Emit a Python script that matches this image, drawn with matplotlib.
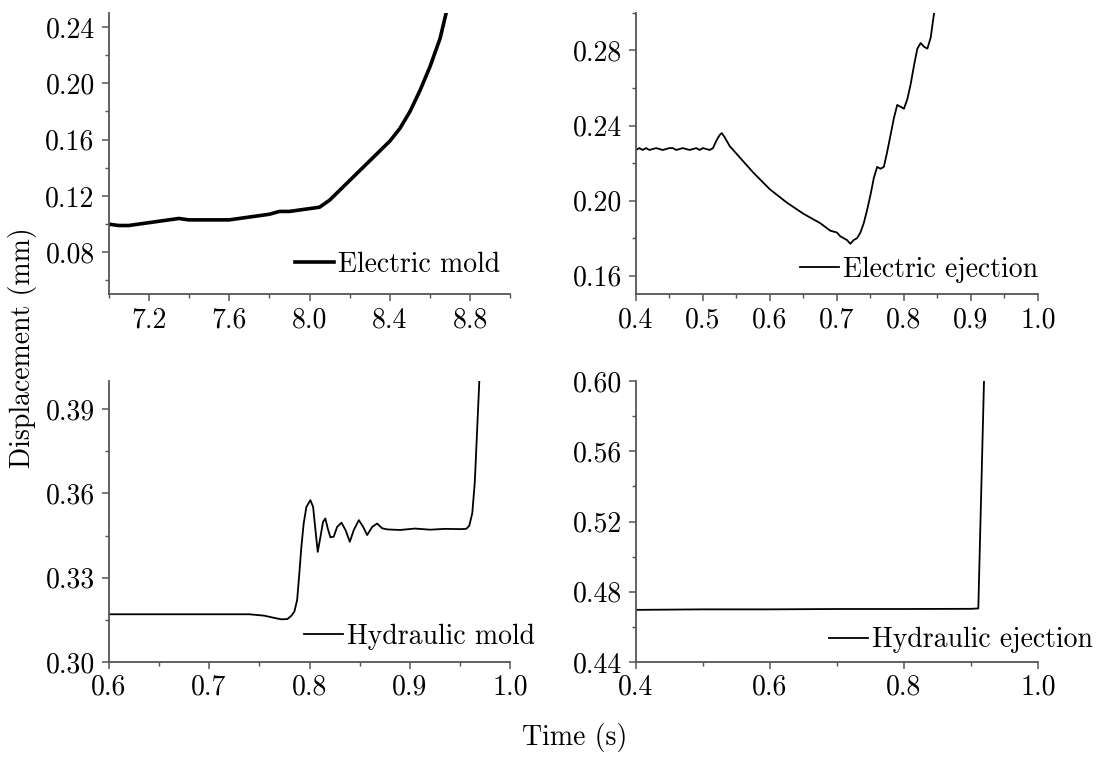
import matplotlib
matplotlib.use("Agg")
import matplotlib.pyplot as plt
from matplotlib.ticker import MultipleLocator, FormatStrFormatter

plt.rcParams['font.family'] = 'cmr10'
plt.rcParams['mathtext.fontset'] = 'cm'
plt.rcParams['axes.formatter.use_mathtext'] = True
plt.rcParams['font.size'] = 20

# Electric mold (top left)
em_t = [7.00, 7.05, 7.10, 7.15, 7.20, 7.25, 7.30, 7.35, 7.40, 7.45, 7.50, 7.55, 7.60, 7.65,
        7.70, 7.75, 7.80, 7.85, 7.90, 7.95, 8.00, 8.05, 8.10, 8.15, 8.20, 8.25, 8.30, 8.35,
        8.40, 8.45, 8.50, 8.55, 8.60, 8.65, 8.68]
em_d = [0.100, 0.099, 0.099, 0.100, 0.101, 0.102, 0.103, 0.104, 0.103, 0.103, 0.103, 0.103, 0.103, 0.104,
        0.105, 0.106, 0.107, 0.109, 0.109, 0.110, 0.111, 0.112, 0.117, 0.124, 0.131, 0.138, 0.145, 0.152,
        0.159, 0.168, 0.180, 0.195, 0.212, 0.232, 0.250]

# Electric ejection (top right)
ee_t = [0.400, 0.405, 0.410, 0.415, 0.420, 0.430, 0.440, 0.450, 0.455, 0.460, 0.470, 0.480, 0.490,
        0.495, 0.500, 0.510, 0.515, 0.520, 0.525, 0.528, 0.532, 0.540, 0.550, 0.575, 0.600, 0.625,
        0.650, 0.675, 0.690, 0.700, 0.705, 0.710, 0.715, 0.720, 0.725, 0.730, 0.735, 0.740, 0.745,
        0.750, 0.755, 0.760, 0.765, 0.770, 0.775, 0.780, 0.785, 0.790, 0.795, 0.800, 0.805, 0.810,
        0.815, 0.820, 0.825, 0.830, 0.835, 0.840, 0.845]
ee_d = [0.227, 0.228, 0.227, 0.228, 0.227, 0.228, 0.227, 0.228, 0.228, 0.227, 0.228, 0.227, 0.228,
        0.227, 0.228, 0.227, 0.228, 0.232, 0.235, 0.236, 0.234, 0.229, 0.225, 0.215, 0.206, 0.199,
        0.193, 0.188, 0.184, 0.183, 0.181, 0.180, 0.179, 0.177, 0.179, 0.180, 0.183, 0.188, 0.195,
        0.203, 0.212, 0.218, 0.217, 0.218, 0.226, 0.235, 0.244, 0.251, 0.250, 0.249, 0.254, 0.262,
        0.272, 0.281, 0.284, 0.282, 0.281, 0.287, 0.300]

# Hydraulic mold (bottom left)
hm_t = [0.600, 0.650, 0.700, 0.740, 0.755, 0.765, 0.772, 0.778, 0.782, 0.785, 0.7877, 0.7899,
        0.7919, 0.7942, 0.7969, 0.8009, 0.8036, 0.8059, 0.8082, 0.8109, 0.8135, 0.8158, 0.8181,
        0.8208, 0.8241, 0.8275, 0.8318, 0.8358, 0.8401, 0.8441, 0.8491, 0.8534, 0.8574, 0.8624,
        0.8673, 0.8723, 0.8773, 0.890, 0.905, 0.920, 0.935, 0.950, 0.956, 0.959, 0.962, 0.9645,
        0.9665, 0.969]
hm_d = [0.317, 0.317, 0.317, 0.317, 0.3165, 0.3157, 0.3152, 0.3153, 0.3165, 0.318, 0.3221, 0.3316,
        0.3410, 0.3493, 0.3552, 0.3576, 0.3552, 0.3470, 0.3392, 0.3446, 0.3499, 0.3511, 0.3476,
        0.3444, 0.3446, 0.3481, 0.3496, 0.3470, 0.3428, 0.3470, 0.3505, 0.3481, 0.3452, 0.3481,
        0.3493, 0.3476, 0.3472, 0.3470, 0.3475, 0.3471, 0.3474, 0.3473, 0.3474, 0.3485, 0.3530,
        0.3640, 0.3800, 0.4000]

# Hydraulic ejection (bottom right)
he_t = [0.400, 0.500, 0.600, 0.700, 0.800, 0.900, 0.911, 0.9195]
he_d = [0.4697, 0.4700, 0.4700, 0.4702, 0.4702, 0.4703, 0.4705, 0.6000]

panels = [
    dict(t=em_t, d=em_d, lw=2.6, label='Electric mold', xlim=(7.0, 9.0), ylim=(0.05, 0.25),
         xticks=[7.2, 7.6, 8.0, 8.4, 8.8], xmin=0.2, ymaj=0.04, ymin=0.02,
         pos=[0.0984, 0.6115, 0.3644, 0.3714], leg=(0.975, 0.105)),
    dict(t=ee_t, d=ee_d, lw=1.3, label='Electric ejection', xlim=(0.4, 1.0), ylim=(0.15, 0.30),
         xticks=[0.4, 0.5, 0.6, 0.7, 0.8, 0.9, 1.0], xmin=0.05, ymaj=0.04, ymin=0.02,
         pos=[0.5766, 0.6115, 0.3644, 0.3714], leg=(1.0, 0.087)),
    dict(t=hm_t, d=hm_d, lw=1.3, label='Hydraulic mold', xlim=(0.6, 1.0), ylim=(0.30, 0.40),
         xticks=[0.6, 0.7, 0.8, 0.9, 1.0], xmin=0.05, ymaj=0.03, ymin=0.015,
         pos=[0.0984, 0.1266, 0.3644, 0.3707], leg=(1.062, 0.089)),
    dict(t=he_t, d=he_d, lw=1.3, label='Hydraulic ejection', xlim=(0.4, 1.0), ylim=(0.44, 0.60),
         xticks=[0.4, 0.6, 0.8, 1.0], xmin=0.1, ymaj=0.04, ymin=0.02,
         pos=[0.5766, 0.1266, 0.3644, 0.3707], leg=(1.138, 0.078)),
]

fig = plt.figure(figsize=(11.03, 7.58), dpi=100)
spine_col = '#555555'

for p in panels:
    ax = fig.add_axes(p['pos'])
    ax.plot(p['t'], p['d'], color='black', lw=p['lw'], label=p['label'])
    ax.set_xlim(*p['xlim'])
    ax.set_ylim(*p['ylim'])
    ax.set_xticks(p['xticks'])
    ax.xaxis.set_minor_locator(MultipleLocator(p['xmin']))
    ax.yaxis.set_major_locator(MultipleLocator(p['ymaj']))
    ax.yaxis.set_minor_locator(MultipleLocator(p['ymin']))
    ax.xaxis.set_major_formatter(FormatStrFormatter('%.1f'))
    ax.yaxis.set_major_formatter(FormatStrFormatter('%.2f'))
    for s in ['top', 'right']:
        ax.spines[s].set_visible(False)
    for s in ['left', 'bottom']:
        ax.spines[s].set_color(spine_col)
        ax.spines[s].set_linewidth(1.3)
    ax.tick_params(which='major', direction='out', length=5, width=1.1, color=spine_col,
                   labelsize=20)
    ax.tick_params(axis='y', which='major', pad=5)
    ax.tick_params(axis='x', which='major', pad=4)
    ax.tick_params(which='minor', direction='out', length=3, width=1.0, color=spine_col)
    ax.legend(loc='center right', bbox_to_anchor=p['leg'], frameon=False, fontsize=20,
              handlelength=1.4, handletextpad=0.15, borderpad=0, borderaxespad=0)

fig.text(0.02, 0.542, 'Displacement (mm)', rotation=90, ha='center', va='center', fontsize=20)
fig.text(0.521, 0.027, 'Time (s)', ha='center', va='center', fontsize=20)

fig.savefig('out.png', dpi=100)
